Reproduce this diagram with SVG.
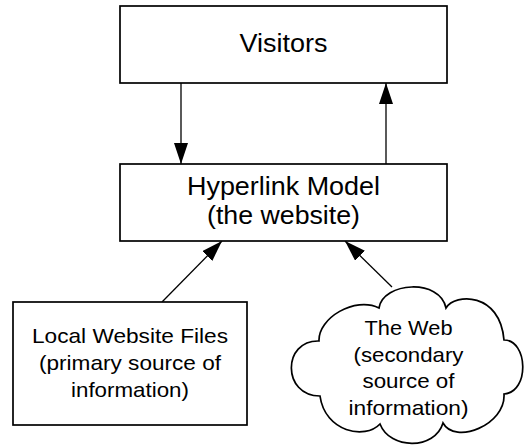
<svg xmlns="http://www.w3.org/2000/svg" width="526" height="446" viewBox="0 0 526 446">
  <style>
    .box { fill: #ffffff; stroke: #000000; stroke-width: 1.7; }
    .link { fill: none; stroke: #000000; stroke-width: 1.3; marker-end: url(#head); }
    .lbl { font-family: "Liberation Sans", Arial, sans-serif; fill: #000000; text-anchor: middle; }
    .big { font-size: 25px; }
    .small { font-size: 21px; }
  </style>
  <defs>
    <marker id="head" markerUnits="userSpaceOnUse" markerWidth="22" markerHeight="16" refX="21" refY="7" orient="auto">
      <path d="M0,0 L21,7 L0,14 Z" fill="#000000"/>
    </marker>
  </defs>
  <rect width="526" height="446" fill="#ffffff"/>

  <g id="connectors">
    <line class="link" x1="181" y1="83" x2="181" y2="164"/>
    <line class="link" x1="386" y1="164" x2="386" y2="83"/>
    <line class="link" x1="162" y1="302" x2="222" y2="241"/>
    <line class="link" x1="392" y1="287" x2="345" y2="241"/>
  </g>

  <g id="visitors">
    <rect class="box" x="120" y="6" width="327" height="77"/>
    <text class="lbl big" x="283.5" y="52" textLength="88" lengthAdjust="spacingAndGlyphs">Visitors</text>
  </g>

  <g id="hyperlink-model">
    <rect class="box" x="120" y="164" width="327" height="77"/>
    <text class="lbl big" x="283.5" y="195" textLength="193" lengthAdjust="spacingAndGlyphs">Hyperlink Model</text>
    <text class="lbl big" x="283.5" y="224" textLength="153" lengthAdjust="spacingAndGlyphs">(the website)</text>
  </g>

  <g id="local-files">
    <rect class="box" x="13" y="302" width="234" height="123"/>
    <text class="lbl small" x="130" y="343" textLength="196" lengthAdjust="spacingAndGlyphs">Local Website Files</text>
    <text class="lbl small" x="130" y="370" textLength="182" lengthAdjust="spacingAndGlyphs">(primary source of</text>
    <text class="lbl small" x="130" y="397" textLength="118" lengthAdjust="spacingAndGlyphs">information)</text>
  </g>

  <g id="the-web">
    <path class="box" d="M379,308 C383,282 440,278 446,308 C455,293 500,292 504,340 C528,340 530,392 504,394 C506,425 455,445 443,423 C435,450 390,450 380,424 C365,440 325,432 320,396 C282,396 282,340 319,341 C318,318 355,296 379,308 Z"/>
    <text class="lbl small" x="408.5" y="335" textLength="88" lengthAdjust="spacingAndGlyphs">The Web</text>
    <text class="lbl small" x="408.5" y="362" textLength="110" lengthAdjust="spacingAndGlyphs">(secondary</text>
    <text class="lbl small" x="408.5" y="388" textLength="92" lengthAdjust="spacingAndGlyphs">source of</text>
    <text class="lbl small" x="408.5" y="415" textLength="120" lengthAdjust="spacingAndGlyphs">information)</text>
  </g>
</svg>
